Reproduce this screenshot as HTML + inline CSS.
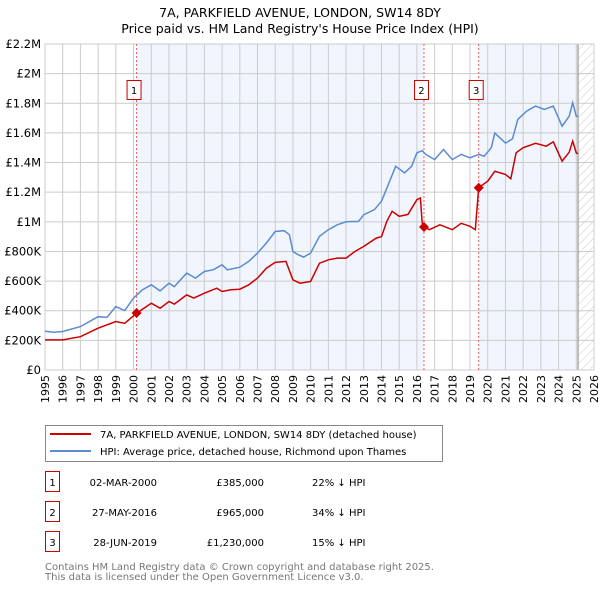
<!DOCTYPE html>
<html><head><meta charset="utf-8"><style>
body{margin:0;background:#fff;font-family:"DejaVu Sans","Liberation Sans",sans-serif;}
svg{display:block}
</style></head><body>
<svg width="600" height="590" viewBox="0 0 600 590" xmlns="http://www.w3.org/2000/svg" font-family="DejaVu Sans, Liberation Sans, sans-serif">
<defs>
<pattern id="hatch" width="6" height="6" patternUnits="userSpaceOnUse" patternTransform="rotate(45)">
<line x1="0" y1="0" x2="0" y2="6" stroke="#bbb" stroke-width="0.8"/></pattern>
</defs>
<text x="300" y="17" text-anchor="middle" font-size="12.5">7A, PARKFIELD AVENUE, LONDON, SW14 8DY</text>
<text x="300" y="33" text-anchor="middle" font-size="12.5">Price paid vs. HM Land Registry's House Price Index (HPI)</text>
<g id="plot"></g>
<g id="legend">
<rect x="45.5" y="425.5" width="397" height="36" fill="#fff" stroke="#888"/>
<line x1="50" y1="434" x2="91" y2="434" stroke="#cc0000" stroke-width="2"/>
<text x="100" y="438" font-size="10">7A, PARKFIELD AVENUE, LONDON, SW14 8DY (detached house)</text>
<line x1="50" y1="451" x2="91" y2="451" stroke="#5b8bd0" stroke-width="2"/>
<text x="100" y="455" font-size="10">HPI: Average price, detached house, Richmond upon Thames</text>
</g>
<g id="table" font-size="10"></g>
<text x="45" y="570" font-size="10" fill="#777">Contains HM Land Registry data © Crown copyright and database right 2025.</text>
<text x="45" y="580" font-size="10" fill="#777">This data is licensed under the Open Government Licence v3.0.</text>
</svg>
<script>
const yTicks=[0,200,400,600,800,1000,1200,1400,1600,1800,2000,2200];
const yTickLabels=["£0","£200K","£400K","£600K","£800K","£1M","£1.2M","£1.4M","£1.6M","£1.8M","£2M","£2.2M"];
const years=[1995,1996,1997,1998,1999,2000,2001,2002,2003,2004,2005,2006,2007,2008,2009,2010,2011,2012,2013,2014,2015,2016,2017,2018,2019,2020,2021,2022,2023,2024,2025,2026];
const hpiT=[1995,1995.5,1996,1997,1998,1998.5,1999,1999.5,2000,2000.5,2001,2001.5,2002,2002.3,2003,2003.5,2004,2004.5,2005,2005.3,2006,2006.5,2007,2007.5,2008,2008.5,2008.8,2009,2009.3,2009.6,2010,2010.5,2011,2011.5,2012,2012.7,2013,2013.6,2014,2014.5,2014.8,2015.3,2015.7,2016,2016.3,2016.5,2017,2017.5,2018,2018.5,2019,2019.5,2019.8,2020.2,2020.4,2021,2021.4,2021.7,2022.2,2022.7,2023.2,2023.7,2024.2,2024.6,2024.8,2025,2025.1];
const hpiV=[262,255,260,293,360,355,428,401,485,541,575,534,586,563,654,620,665,676,710,676,694,733,789,857,935,940,913,800,778,762,789,902,947,980,1000,1003,1048,1082,1139,1285,1375,1330,1375,1466,1480,1455,1420,1488,1420,1455,1432,1455,1443,1500,1599,1531,1560,1691,1747,1781,1758,1781,1645,1713,1804,1713,1713];
const ppT=[1995,1996,1997,1998,1999,1999.5,2000.17,2001,2001.5,2002,2002.3,2003,2003.4,2004,2004.7,2005,2005.5,2006,2006.5,2007,2007.5,2008,2008.6,2009,2009.4,2010,2010.5,2011,2011.5,2012,2012.5,2013,2013.7,2014,2014.3,2014.6,2015,2015.5,2016,2016.2,2016.3,2016.4,2016.7,2017.3,2018,2018.5,2019,2019.3,2019.49,2020,2020.4,2021,2021.3,2021.6,2022,2022.7,2023.3,2023.7,2024.2,2024.6,2024.8,2025,2025.1];
const ppV=[203,203,225,282,327,315,383,451,417,462,445,507,485,518,552,530,541,545,575,620,687,726,733,609,586,597,721,744,755,755,800,834,890,900,1003,1071,1037,1050,1150,1161,992,965,947,980,947,990,970,947,1230,1274,1341,1320,1290,1466,1500,1530,1510,1540,1409,1470,1545,1465,1460];
const saleT=[2000.17,2016.4,2019.49];
const saleV=[385,965,1230];
const saleLabels=["1","2","3"];
const saleDates=["02-MAR-2000","27-MAY-2016","28-JUN-2019"];
const salePrices=["£385,000","£965,000","£1,230,000"];
const saleDiffs=["22% ↓ HPI","34% ↓ HPI","15% ↓ HPI"];

const NS="http://www.w3.org/2000/svg";
const X0=45,X1=594,Y0=370,Y1=44,T0=1995,T1=2026,VMAX=2200;
const xs=t=>X0+(t-T0)/(T1-T0)*(X1-X0);
const ys=v=>Y0-v/VMAX*(Y0-Y1);
function mk(tag,attrs,parent){const e=document.createElementNS(NS,tag);for(const k in attrs)e.setAttribute(k,attrs[k]);parent.appendChild(e);return e;}
const plot=document.getElementById('plot');
// shading
const shadeStarts=[saleT[0],saleT[2]],shadeEnds=[saleT[1],2025.1];
shadeStarts.forEach((s,i)=>{const r=mk('rect',{x:xs(s),y:Y1,width:xs(shadeEnds[i])-xs(s),height:Y0-Y1,fill:'#eef3fd',opacity:0.8},plot);

});
const h=mk('rect',{x:xs(2025.1),y:Y1,width:X1-xs(2025.1),height:Y0-Y1,fill:'url(#hatch)'},plot);


// grid
years.forEach(y=>{const l=mk('line',{x1:xs(y),x2:xs(y),y1:Y1,y2:Y0,stroke:'#cccccc','stroke-width':1},plot);


const t=mk('text',{x:0,y:0,'font-size':11,'text-anchor':'end',transform:`translate(${xs(y)+4},${Y0+5}) rotate(-90)`},plot);
t.textContent=y;

});
yTicks.forEach((v,i)=>{const l=mk('line',{x1:X0,x2:X1,y1:ys(v),y2:ys(v),stroke:'#cccccc','stroke-width':1},plot);


const t=mk('text',{x:X0-4,y:ys(v)+4,'font-size':11.5,'text-anchor':'end'},plot);
t.textContent=yTickLabels[i];

});
const ed=mk('line',{x1:xs(2025.1),x2:xs(2025.1),y1:Y1,y2:Y0,stroke:'#999','stroke-width':1.2},plot);


const fr=mk('rect',{x:X0,y:Y1,width:X1-X0,height:Y0-Y1,fill:'none',stroke:'#cccccc'},plot);


// sale markers lines and boxes
saleT.forEach((t,i)=>{const l=mk('line',{x1:xs(t),x2:xs(t),y1:Y1,y2:Y0,stroke:'#e06060','stroke-width':1,'stroke-dasharray':'2,2'},plot);


const r=mk('rect',{x:xs(t)-9.5,y:80.5,width:14,height:19,fill:'#fff',stroke:'#cc0000'},plot);


const tx=mk('text',{x:xs(t)-2.5,y:94,'font-size':10,'text-anchor':'middle'},plot);
tx.textContent=saleLabels[i];

});
const pth=(T,V)=>T.map((t,i)=>(i?'L':'M')+xs(t).toFixed(1)+','+ys(V[i]).toFixed(1)).join('');
const hp=mk('path',{d:pth(hpiT,hpiV),fill:'none',stroke:'#5b8bd0','stroke-width':1.5},plot);


const pp=mk('path',{d:pth(ppT,ppV),fill:'none',stroke:'#cc0000','stroke-width':1.5},plot);


saleT.forEach((t,i)=>{const c=mk('path',{d:`M${xs(t)-5},${ys(saleV[i])}l5,-5l5,5l-5,5z`,fill:'#cc0000'},plot);

});
// table
const tb=document.getElementById('table');
saleT.forEach((t,i)=>{const y=483+i*30;
const r=mk('rect',{x:45.5,y:y-11.5,width:14,height:20,fill:'none',stroke:'#cc0000'},tb);


const a=mk('text',{x:52.5,y:y+3,'text-anchor':'middle'},tb);a.textContent=saleLabels[i];


const b=mk('text',{x:157,y:y+3,'text-anchor':'end'},tb);b.textContent=saleDates[i];


const c=mk('text',{x:264,y:y+3,'text-anchor':'end'},tb);c.textContent=salePrices[i];


const d=mk('text',{x:312,y:y+3},tb);d.textContent=saleDiffs[i];

});
</script>
</body></html>
